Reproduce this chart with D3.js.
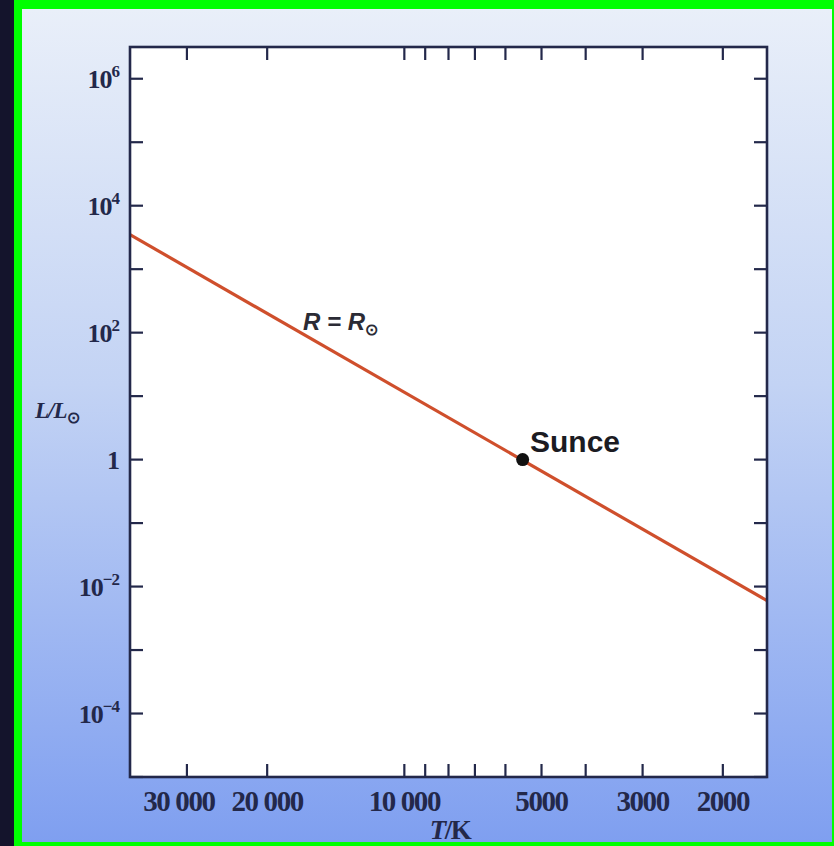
<!DOCTYPE html>
<html>
<head>
<meta charset="utf-8">
<script src="https://cdn.jsdelivr.net/npm/d3@7"></script>
<style>
  body { margin: 0; background: #14142c; }
  svg { display: block; }
</style>
</head>
<body>
<div id="chart"></div>
<script>
// data
var xTicks = [30000, 20000, 10000, 9000, 8000, 7000, 6000, 5000, 4000, 3000, 2000];
var xLabels = [[30000, "30 000"], [20000, "20 000"], [10000, "10 000"], [5000, "5000"], [3000, "3000"], [2000, "2000"]];
var yTicks = [1e-5, 1e-4, 1e-3, 1e-2, 1e-1, 1, 1e1, 1e2, 1e3, 1e4, 1e5, 1e6];
var yLabels = [[1e6, "6"], [1e4, "4"], [1e2, "2"], [1, ""], [1e-2, "\u22122"], [1e-4, "\u22124"]];
var lineT = [40000, 1600];
var lineL = [3500, 0.006];
var sunT = [5500];
var sunL = [1];

var width = 834, height = 846;
var margin = {left: 130, right: 67, top: 47, bottom: 69};

var svg = d3.select("#chart").append("svg")
    .attr("width", width)
    .attr("height", height);

var defs = svg.append("defs");
var grad = defs.append("linearGradient")
    .attr("id", "bg")
    .attr("x1", 0).attr("y1", 0).attr("x2", 0).attr("y2", 1);
grad.append("stop").attr("offset", "0%").attr("stop-color", "#e9eff9");
grad.append("stop").attr("offset", "45%").attr("stop-color", "#c3d3f4");
grad.append("stop").attr("offset", "100%").attr("stop-color", "#7f9ff0");

// dark strip + green border + gradient
svg.append("rect").attr("width", width).attr("height", height).attr("fill", "#14142c");
svg.append("rect").attr("x", 14).attr("y", 0).attr("width", width - 14).attr("height", height).attr("fill", "#00ff00");
svg.append("rect").attr("x", 22).attr("y", 9).attr("width", 810).attr("height", 833).attr("fill", "url(#bg)");

var x = d3.scaleLog()
    .domain([40000, 1600])
    .range([margin.left, width - margin.right]);

var y = d3.scaleLog()
    .domain([1e-5, Math.pow(10, 6.5)])
    .range([height - margin.bottom, margin.top]);

var x0 = x.range()[0], x1 = x.range()[1];
var y0 = y.range()[0], y1 = y.range()[1];
var ink = "#23284a";
var tickLen = 13;

svg.append("rect")
    .attr("x", x0).attr("y", y1)
    .attr("width", x1 - x0).attr("height", y0 - y1)
    .attr("fill", "#ffffff");

var ticks = svg.append("g").attr("stroke", ink).attr("stroke-width", 2.2);

xTicks.forEach(function (t) {
    ticks.append("line").attr("x1", x(t)).attr("x2", x(t)).attr("y1", y0).attr("y2", y0 - tickLen);
    ticks.append("line").attr("x1", x(t)).attr("x2", x(t)).attr("y1", y1).attr("y2", y1 + tickLen);
});
yTicks.forEach(function (t) {
    ticks.append("line").attr("x1", x0).attr("x2", x0 + tickLen).attr("y1", y(t)).attr("y2", y(t));
    ticks.append("line").attr("x1", x1).attr("x2", x1 - tickLen).attr("y1", y(t)).attr("y2", y(t));
});

// R = Rsun line
var line = d3.line()
    .x(function (d) { return x(d[0]); })
    .y(function (d) { return y(d[1]); });

svg.append("path")
    .datum(d3.zip(lineT, lineL))
    .attr("d", line)
    .attr("fill", "none")
    .attr("stroke", "#cf4f2c")
    .attr("stroke-width", 3.2);

svg.append("rect")
    .attr("x", x0).attr("y", y1)
    .attr("width", x1 - x0).attr("height", y0 - y1)
    .attr("fill", "none")
    .attr("stroke", ink)
    .attr("stroke-width", 2.6);

svg.selectAll(".sun")
    .data(d3.zip(sunT, sunL))
    .enter().append("circle")
    .attr("cx", d => x(d[0]))
    .attr("cy", d => y(d[1]))
    .attr("r", 6.5)
    .attr("fill", "#111");

var serif = "'Liberation Serif', 'Times New Roman', serif";

// x labels
svg.append("g").selectAll("text")
    .data(xLabels)
    .enter().append("text")
    .attr("x", d => x(d[0]) - (d[0] === 30000 ? 8 : 0))
    .attr("y", 811)
    .attr("text-anchor", "middle")
    .attr("font-family", serif)
    .attr("font-weight", "bold")
    .attr("font-size", 29)
    .attr("fill", ink)
    .attr("letter-spacing", -1.4)
    .text(d => d[1]);

var xt = svg.append("text")
    .attr("x", 450).attr("y", 839)
    .attr("text-anchor", "middle")
    .attr("font-family", serif)
    .attr("font-weight", "bold")
    .attr("font-size", 27)
    .attr("letter-spacing", -1.5)
    .attr("fill", ink);
xt.append("tspan").attr("font-style", "italic").text("T");
xt.append("tspan").text("/K");

// y labels
var yl = svg.append("g").selectAll("text")
    .data(yLabels)
    .enter().append("text")
    .attr("x", 119)
    .attr("y", d => y(d[0]) + 9)
    .attr("text-anchor", "end")
    .attr("font-family", serif)
    .attr("font-weight", "bold")
    .attr("font-size", 26)
    .attr("letter-spacing", -1)
    .attr("fill", ink);
yl.append("tspan").text(d => d[1] === "" ? "1" : "10");
yl.append("tspan")
    .attr("font-size", 17)
    .attr("dy", -11)
    .text(d => d[1]);

var ylab = svg.append("text")
    .attr("x", 35).attr("y", 418)
    .attr("font-family", serif)
    .attr("font-weight", "bold")
    .attr("font-style", "italic")
    .attr("font-size", 23)
    .attr("letter-spacing", -1)
    .attr("fill", ink);
ylab.append("tspan").text("L/L");
ylab.append("tspan").attr("font-size", 16).attr("dy", 5).attr("font-style", "normal").text("\u2299");

// annotations
var rl = svg.append("text")
    .attr("x", 303).attr("y", 330)
    .attr("font-family", "'Liberation Sans', Arial, sans-serif")
    .attr("font-style", "italic")
    .attr("font-weight", "bold")
    .attr("font-size", 24)
    .attr("fill", "#2b2b35");
rl.append("tspan").text("R = R");
rl.append("tspan").attr("font-size", 16).attr("dy", 5).attr("font-style", "normal").text("\u2299");

svg.append("text")
    .attr("x", 530).attr("y", 452)
    .attr("font-family", "'Liberation Sans', Arial, sans-serif")
    .attr("font-size", 30)
    .attr("font-weight", "bold")
    .attr("fill", "#1b1b22")
    .text("Sunce");
</script>
</body>
</html>
